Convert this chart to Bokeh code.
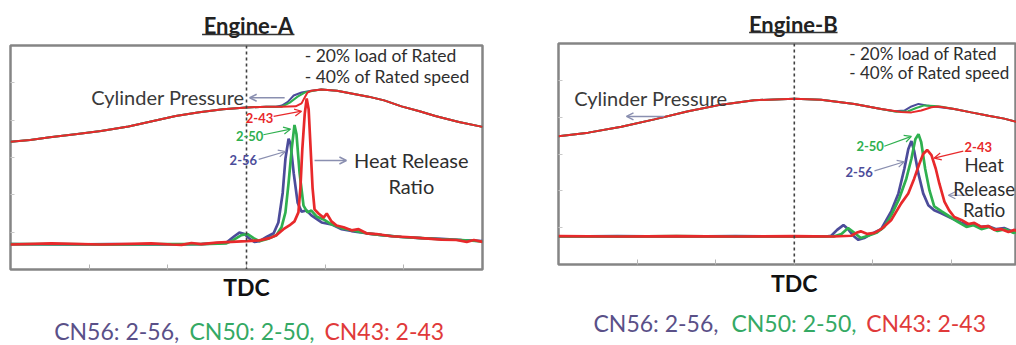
from bokeh.plotting import figure
from bokeh.models import Span, Label, Arrow, OpenHead, FixedTicker, Range1d
from bokeh.layouts import row, column
from bokeh.embed import file_html
from bokeh.resources import INLINE
from bokeh.core.properties import value

FONT = "Lato"
RED = "#e8292b"
GREEN = "#2fb04f"
BLUE = "#4c4c9a"
LEG_PURPLE = "#5a5088"
LEG_GREEN = "#34a964"
LEG_RED = "#e03a3a"
ARROW_GRAY = "#8a8fb0"
TXT = "#2e2e2e"

titles = ["Engine-A", "Engine-B"]
tdc_label = "TDC"
fuels = ["2-56", "2-50", "2-43"]
legend_parts = ["CN56: 2-56,", "CN50: 2-50,", "CN43: 2-43"]
legend_colors = [LEG_PURPLE, LEG_GREEN, LEG_RED]

# ---------------- Engine A ----------------
a_p_red_deg = [-60, -55, -50, -43, -37, -30, -24, -18, -12, -6, 0, 5, 9, 12.5, 14, 14.8, 15.5, 16.5, 19, 23, 27, 31, 35, 39.4, 44, 48, 54, 60]
a_p_red = [34.2, 34.7, 35.4, 36.3, 37.1, 38.3, 39.7, 41.1, 42.1, 42.9, 43.4, 43.6, 43.6, 43.7, 44.5, 46.1, 47.4, 47.9, 48.2, 47.9, 47.1, 46.3, 45.3, 43.7, 42.4, 41.1, 39.5, 38.2]
a_p_blue_deg = [-60, -55, -50, -43, -37, -30, -24, -18, -12, -6, 0, 5, 7.5, 9, 10.5, 12, 14, 16.5, 19, 23, 27, 31, 35, 39.4, 44, 48, 54, 60]
a_p_blue = [34.2, 34.7, 35.4, 36.3, 37.1, 38.3, 39.7, 41.1, 42.1, 42.9, 43.4, 43.6, 43.6, 43.9, 44.9, 46.6, 47.4, 47.9, 48.2, 47.9, 47.1, 46.3, 45.3, 43.7, 42.4, 41.1, 39.5, 38.2]
a_p_green_deg = [-60, -55, -50, -43, -37, -30, -24, -18, -12, -6, 0, 5, 9, 11, 13, 14.8, 17, 19, 23, 27, 31, 35, 39.4, 44, 48, 54, 60]
a_p_green = [34.2, 34.7, 35.4, 36.3, 37.1, 38.3, 39.7, 41.1, 42.1, 42.9, 43.4, 43.6, 43.6, 44.7, 46.3, 47.4, 47.9, 48.2, 47.9, 47.1, 46.3, 45.3, 43.7, 42.4, 41.1, 39.5, 38.2]

a_h_blue_deg = [-60, -47, -34.4, -21.6, -11.5, -5.1, -3.1, -1.8, -0.5, 0.8, 2.0, 3.3, 5.1, 6.9, 8.1, 9.2, 9.9, 10.7, 11.2, 12.0, 13.0, 14.0, 15.3, 16.5, 19.1, 21.6, 24.2, 26.7, 30.5, 34.4, 39.4, 44.5, 49.6, 54.7, 60]
a_h_blue = [6.8, 6.7, 6.8, 6.7, 6.8, 7.2, 8.9, 9.9, 9.5, 8.2, 7.4, 7.6, 8.7, 9.7, 12.6, 20.5, 29.7, 35.0, 33.7, 25.8, 17.9, 15.5, 15.8, 14.5, 12.6, 12.1, 10.8, 10.3, 9.7, 9.2, 8.7, 8.4, 8.2, 7.9, 7.6]
a_h_green_deg = [-60, -47, -34.4, -21.6, -11.5, -5.1, -3.8, -1.3, 0.3, 1.8, 3.3, 5.3, 7.6, 8.9, 9.9, 10.7, 11.5, 12.2, 12.7, 13.5, 14.5, 15.5, 16.5, 17.8, 19.6, 21.6, 24.2, 26.7, 30.5, 34.4, 39.4, 44.5, 49.6, 54.7, 60]
a_h_green = [6.8, 6.8, 6.7, 6.8, 6.8, 7.0, 7.6, 9.2, 9.5, 8.4, 7.6, 8.2, 9.2, 11.3, 15.3, 23.2, 32.4, 38.7, 36.3, 25.8, 17.1, 15.3, 15.8, 14.2, 13.4, 12.1, 11.1, 10.5, 9.7, 9.2, 8.7, 8.4, 8.1, 7.9, 7.5]
a_h_red_deg = [-60, -49.6, -36.9, -24.2, -19.1, -16.5, -14, -11.5, -7.6, -3.8, 0, 3.3, 5.9, 7.6, 9.4, 10.9, 12.2, 13.2, 13.7, 14.2, 14.8, 15.3, 15.8, 16.3, 16.8, 17.3, 18.3, 19.6, 20.4, 21.6, 22.9, 24.7, 26.7, 28.5, 30.5, 33.1, 36.9, 40.7, 44.5, 49.6, 53.4, 56, 57.8, 60]
a_h_red = [6.7, 7.0, 6.7, 7.0, 6.7, 6.6, 7.1, 6.8, 7.2, 7.4, 7.6, 7.8, 8.4, 9.2, 10.8, 11.8, 12.9, 15.3, 21.8, 32.4, 41.6, 45.8, 42.9, 32.4, 21.8, 16.1, 15.0, 13.9, 15.0, 12.9, 11.8, 11.3, 10.5, 10.8, 9.7, 9.5, 8.9, 8.7, 8.4, 8.0, 7.9, 7.4, 7.9, 7.4]

# ---------------- Engine B ----------------
b_p_red_deg = [-60, -52.4, -44, -35.6, -27, -18.6, -10.2, 0, 6.8, 15.3, 22.1, 27.2, 29.8, 32.3, 34.9, 36.6, 40.7, 45, 49.4, 53.4, 56.7, 60]
b_p_red = [34.8, 35.8, 37.4, 39.4, 41.6, 43.4, 44.6, 45.0, 44.7, 43.6, 42.2, 41.4, 41.3, 41.8, 42.7, 42.9, 42.2, 41.3, 40.4, 39.6, 38.7, 37.8]
b_p_blue_deg = [-60, -52.4, -44, -35.6, -27, -18.6, -10.2, 0, 6.8, 15.3, 22.1, 25.5, 28, 29.8, 31.6, 33.6, 35.6, 40.7, 45, 49.4, 53.4, 56.7, 60]
b_p_blue = [34.8, 35.8, 37.4, 39.4, 41.6, 43.4, 44.6, 45.0, 44.7, 43.6, 42.2, 41.6, 41.8, 42.9, 43.6, 43.2, 42.9, 42.2, 41.3, 40.4, 39.6, 38.7, 37.8]
b_p_green_deg = [-60, -52.4, -44, -35.6, -27, -18.6, -10.2, 0, 6.8, 15.3, 22.1, 26, 29, 31, 33.1, 35.6, 37.5, 40.7, 45, 49.4, 53.4, 56.7, 60]
b_p_green = [34.8, 35.8, 37.4, 39.4, 41.6, 43.4, 44.6, 45.0, 44.7, 43.6, 42.2, 41.5, 41.6, 42.5, 43.2, 43.0, 42.8, 42.2, 41.3, 40.4, 39.6, 38.7, 37.8]

b_h_blue_deg = [-60, -45, -30, -15, 0, 8, 9.4, 10.9, 12.5, 13.7, 15, 16.3, 17.8, 19.6, 22.1, 24.7, 26.5, 28, 29, 29.8, 30.5, 31.6, 32.8, 34.1, 35.6, 37.4, 39.9, 42.5, 44.3, 45.8, 47.6, 49.4, 51.4, 53.4, 55.2, 56.7, 60]
b_h_blue = [7.6, 7.7, 7.6, 7.7, 7.6, 7.6, 7.8, 9.4, 10.7, 9.6, 7.8, 6.7, 7.2, 8.3, 9.6, 14.5, 19.3, 26.0, 31.3, 33.5, 30.8, 24.6, 19.3, 16.1, 14.7, 13.9, 12.6, 11.3, 10.7, 11.0, 10.2, 10.4, 9.6, 9.9, 9.1, 9.4, 8.8]
b_h_green_deg = [-60, -45, -30, -15, 0, 10, 12, 13.7, 15.3, 16.9, 18.8, 20.9, 22.9, 24.7, 26.7, 28.5, 29.8, 30.8, 31.6, 32.3, 33.3, 34.4, 35.6, 37.4, 39.4, 41.7, 43.8, 45.5, 47.6, 49.6, 51.7, 53.7, 55.7, 57.8, 60]
b_h_green = [7.6, 7.6, 7.7, 7.6, 7.6, 7.6, 8.3, 9.9, 8.6, 7.2, 7.8, 8.6, 10.2, 13.4, 17.9, 23.3, 28.7, 34.0, 35.4, 33.2, 26.0, 20.1, 15.8, 14.5, 13.1, 11.5, 10.2, 10.7, 9.6, 10.2, 9.1, 9.6, 8.6, 9.1, 8.6]
b_h_red_deg = [-60, -45, -30, -15, 0, 10, 14.5, 15.8, 16.9, 18.6, 20.4, 22.1, 24.7, 27.2, 29, 30.5, 31.8, 32.8, 33.8, 34.9, 36, 36.9, 38.2, 39.4, 40.7, 42.5, 44.3, 45.8, 47.6, 49.4, 50.9, 52.7, 54.5, 56, 57.8, 60]
b_h_red = [7.7, 7.6, 7.7, 7.6, 7.7, 7.6, 7.8, 8.6, 9.0, 8.3, 8.6, 9.6, 12.1, 16.6, 19.3, 23.3, 27.3, 30.0, 31.1, 29.7, 26.0, 22.0, 17.1, 14.7, 12.9, 12.1, 11.0, 11.3, 10.2, 10.4, 9.4, 9.6, 8.8, 9.4, 8.3, 8.6]


def lab(p, x, y, text, size, color=TXT, align="center", style="normal"):
    p.add_layout(Label(x=x, y=y, text=text, text_font=FONT, text_font_size=size,
                       text_color=color, text_align=align, text_baseline="middle",
                       text_font_style=style))


def arr(p, x0, y0, x1, y1, color, width=1.5):
    p.add_layout(Arrow(end=OpenHead(size=7, line_color=color, line_width=width),
                       x_start=x0, y_start=y0, x_end=x1, y_end=y1,
                       line_color=color, line_width=width))


def bare(width, height, xmax, bl, br):
    p = figure(width=width, height=height, output_backend="svg", toolbar_location=None,
               x_range=Range1d(-60, xmax), y_range=Range1d(0, height),
               min_border_left=bl, min_border_right=br, min_border_top=0, min_border_bottom=0)
    p.axis.visible = False
    p.grid.visible = False
    p.outline_line_color = None
    return p


def title_fig(width, height, xmax, bl, br, text, xc, yc, ul_x0, ul_x1, ul_y):
    p = bare(width, height, xmax, bl, br)
    p.text(x=[xc], y=[yc], text=[text], text_font=value(FONT), text_font_size="22px",
           text_font_style="bold", text_color="#222222", text_align="center", text_baseline="middle")
    p.segment(x0=[ul_x0], y0=[ul_y], x1=[ul_x1], y1=[ul_y], line_color="#333333", line_width=1.3)
    return p


def legend_fig(width, height, xmax, bl, br, xs, yc):
    p = bare(width, height, xmax, bl, br)
    p.text(x=xs, y=[yc] * 3, text=legend_parts, text_font=value(FONT), text_font_size="23px",
           text_color=legend_colors, text_align="left", text_baseline="middle")
    return p


def make_panel(width, height, xmax, bl, br, bt, bb, standoff):
    p = figure(width=width, height=height, output_backend="svg", toolbar_location=None,
               x_range=Range1d(-60, xmax), y_range=Range1d(0, 60),
               min_border_left=bl, min_border_right=br,
               min_border_top=bt, min_border_bottom=bb)
    p.outline_line_color = "#858585"
    p.outline_line_width = 2.5
    p.grid.visible = False
    xa = p.xaxis[0]
    xa.ticker = FixedTicker(ticks=[-40, -20, 0, 20, 40])
    xa.major_label_overrides = {-40: "", -20: "", 0: tdc_label, 20: "", 40: ""}
    xa.major_tick_in = 5
    xa.major_tick_out = 0
    xa.minor_tick_line_color = None
    xa.axis_line_color = None
    xa.major_tick_line_color = "#b5b5b5"
    xa.major_label_text_font = FONT
    xa.major_label_text_font_style = "bold"
    xa.major_label_text_font_size = "23px"
    xa.major_label_text_color = "#111111"
    xa.major_label_standoff = standoff
    ya = p.yaxis[0]
    ya.ticker = FixedTicker(ticks=[10, 20, 30, 40, 50])
    ya.major_label_overrides = {10: "", 20: "", 30: "", 40: "", 50: ""}
    ya.major_tick_in = 4
    ya.major_tick_out = 0
    ya.minor_tick_line_color = None
    ya.axis_line_color = None
    ya.major_tick_line_color = "#c8c8c8"
    ya.major_label_standoff = 0
    ya.major_label_text_font_size = "1px"
    p.add_layout(Span(location=0, dimension="height", line_color="#404040",
                      line_dash="3 3", line_width=1.6))
    return p


def curves(p, pd, hd):
    (pbx, pby), (pgx, pgy), (prx, pry) = pd
    (hbx, hby), (hgx, hgy), (hrx, hry) = hd
    p.line(pbx, pby, line_color=BLUE, line_width=2)
    p.line(pgx, pgy, line_color=GREEN, line_width=2)
    p.line(prx, pry, line_color=RED, line_width=2)
    p.line(hbx, hby, line_color=BLUE, line_width=2.7)
    p.line(hgx, hgy, line_color=GREEN, line_width=2.7)
    p.line(hrx, hry, line_color=RED, line_width=2.7)


# ---------- Panel A (x 0..520) ----------
A_W, A_XMAX, A_BL, A_BR = 520, 60, 10, 38
ta = title_fig(A_W, 43, A_XMAX, A_BL, A_BR, titles[0], 0.5, 18, -11.3, 12.2, 9)
pa = make_panel(A_W, 260, A_XMAX, A_BL, A_BR, 2, 30, 3)
la = legend_fig(A_W, 42, A_XMAX, A_BL, A_BR, [-48.9, -14.5, 19.8], 15)
curves(pa, [(a_p_blue_deg, a_p_blue), (a_p_green_deg, a_p_green), (a_p_red_deg, a_p_red)],
       [(a_h_blue_deg, a_h_blue), (a_h_green_deg, a_h_green), (a_h_red_deg, a_h_red)])
lab(pa, 14.8, 57.4, "- 20% load of Rated", "17.5px", align="left")
lab(pa, 14.8, 51.8, "- 40% of Rated speed", "17.5px", align="left")
lab(pa, -0.5, 46.3, "Cylinder Pressure", "20px", "#3a3a3a", align="right")
arr(pa, 9.7, 46.0, 0.8, 46.0, ARROW_GRAY)
lab(pa, 41.9, 29.2, "Heat Release", "20px")
lab(pa, 41.9, 22.4, "Ratio", "20px")
arr(pa, 17.3, 29.2, 25.4, 29.2, ARROW_GRAY)
lab(pa, 3.3, 40.5, fuels[2], "13px", RED, style="bold")
arr(pa, 6.9, 41.0, 14.0, 42.4, RED, 1.2)
lab(pa, 0.8, 35.8, fuels[1], "13px", GREEN, style="bold")
arr(pa, 4.3, 36.1, 11.2, 37.6, GREEN, 1.2)
lab(pa, -0.8, 29.2, fuels[0], "13px", BLUE, style="bold")
arr(pa, 3.1, 29.5, 9.9, 31.6, ARROW_GRAY, 1.2)

# ---------- Panel B (x 520..1016) ----------
B_W, B_XMAX, B_BL, B_BR = 496, 56.54, 38, 0
tb = title_fig(B_W, 41, B_XMAX, B_BL, B_BR, titles[1], -0.25, 17, -11.5, 11.0, 9)
pb = make_panel(B_W, 258, B_XMAX, B_BL, B_BR, 2, 32, 4)
lb = legend_fig(B_W, 46, B_XMAX, B_BL, B_BR, [-51.1, -16.0, 18.3], 23)
curves(pb, [(b_p_blue_deg, b_p_blue), (b_p_green_deg, b_p_green), (b_p_red_deg, b_p_red)],
       [(b_h_blue_deg, b_h_blue), (b_h_green_deg, b_h_green), (b_h_red_deg, b_h_red)])
lab(pb, 14.0, 57.3, "- 20% load of Rated", "17px", align="left")
lab(pb, 14.0, 52.0, "- 40% of Rated speed", "17px", align="left")
lab(pb, -56.0, 45.3, "Cylinder Pressure", "20px", "#3a3a3a", align="left")
arr(pb, -33.1, 40.2, -42.7, 40.2, ARROW_GRAY)
arr(pb, 44.0, 18.8, 39.2, 18.8, ARROW_GRAY, 1.2)
lab(pb, 19.3, 32.1, fuels[1], "13px", GREEN, style="bold")
arr(pb, 22.9, 32.1, 29.8, 34.8, GREEN, 1.2)
lab(pb, 16.5, 25.2, fuels[0], "13px", BLUE, style="bold")
arr(pb, 20.4, 25.4, 28.0, 27.9, ARROW_GRAY, 1.2)
lab(pb, 46.8, 31.9, fuels[2], "13px", RED, style="bold")
arr(pb, 43.0, 30.8, 35.6, 28.9, RED, 1.2)
lab(pb, 48.3, 27.1, "Heat", "18.5px")
lab(pb, 48.3, 20.6, "Release", "18.5px")
lab(pb, 48.3, 14.7, "Ratio", "18.5px")

layout = row(column(ta, pa, la), column(tb, pb, lb))
open("out.html", "w").write(file_html(layout, INLINE))
